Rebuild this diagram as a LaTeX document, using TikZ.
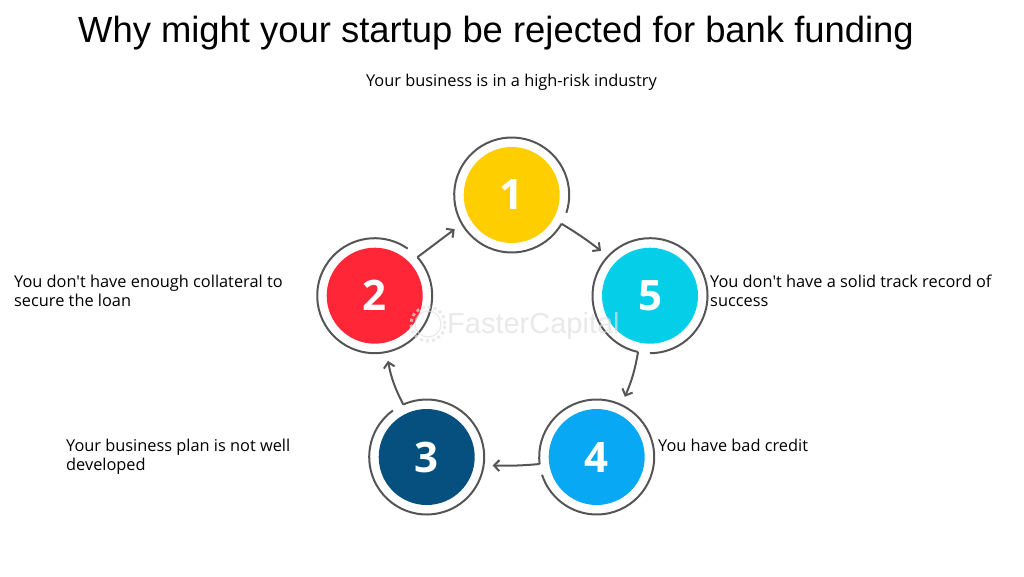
\documentclass[tikz,border=0pt]{standalone}
\usepackage{fontspec}
\usepackage{xcolor}
\newfontfamily\bodyfont{Open Sans}
\newfontfamily\titlefont{Liberation Sans}
\usetikzlibrary{arrows.meta,bending}
\definecolor{ringgray}{HTML}{555555}
\definecolor{fillone}{HTML}{FFCE00}
\definecolor{filltwo}{HTML}{FF2638}
\definecolor{fillthree}{HTML}{05507F}
\definecolor{fillfour}{HTML}{08A8F5}
\definecolor{fillfive}{HTML}{05CFE8}

\begin{document}
\begin{tikzpicture}[x=1pt,y=-1pt,
    disc/.style={circle,minimum size=96pt,inner sep=0pt,text=white,font=\bodyfont\fontsize{42}{42}\selectfont\bfseries},
    ring/.style={circle,minimum size=115pt,inner sep=0pt,outer sep=0pt},
    ringline/.style={line width=2pt,color=ringgray},
    flow/.style={line width=2pt,color=ringgray,-{Straight Barb[length=6pt,width=11pt,bend]}},
    caption/.style={align=left,inner sep=0pt,font=\bodyfont\fontsize{16.35}{19.5}\selectfont}]
    \useasboundingbox (0,0) rectangle (1024,576);

    \node[font=\titlefont\fontsize{36.4}{40}\selectfont,inner sep=0pt,anchor=base] (title) at (496,42) {Why might your startup be rejected for bank funding};
    \node[caption,anchor=base] (top) at (511.5,86) {Your business is in a high-risk industry};

    \node[ring] (r1) at (511.7,195) {};
    \node[ring] (r2) at (374.7,295.7) {};
    \node[ring] (r3) at (426.7,457) {};
    \node[ring] (r4) at (596.7,457) {};
    \node[ring] (r5) at (650,295.7) {};

    \node[disc,fill=fillone] (d1) at (r1) {1};
    \node[disc,fill=filltwo] (d2) at (r2) {2};
    \node[disc,fill=fillthree] (d3) at (r3) {3};
    \node[disc,fill=fillfour] (d4) at (r4) {4};
    \node[disc,fill=fillfive] (d5) at (r5) {5};

    \draw[ringline] (r1.-30) arc[start angle=-30,delta angle=-348,radius=57.5pt];
    \draw[ringline] (r2.42) arc[start angle=42,delta angle=-347,radius=57.5pt];
    \draw[ringline] (r3.114) arc[start angle=114,delta angle=-348,radius=57.5pt];
    \draw[ringline] (r4.187) arc[start angle=187,delta angle=-349,radius=57.5pt];
    \draw[ringline] (r5.258) arc[start angle=258,delta angle=-348,radius=57.5pt];

    \draw[flow,shorten >=9pt] (r1.-30) to[bend left=4] (r5.137);
    \draw[flow,shorten >=9pt] (r5.258) to[bend left=8] (r4.65);
    \draw[flow,shorten >=9pt] (r4.187) to[bend left=4] (r3.-8);
    \draw[flow,shorten >=9pt] (r3.114) to[bend left=10] (r2.-78);
    \draw[flow,shorten >=9pt] (r2.42) to[bend left=0] (r1.210);

    \node[text=gray!25,opacity=0.7,font=\titlefont\fontsize{29}{29}\selectfont,inner sep=0pt,anchor=base west] (mark) at (447,333) {FasterCapital};
    \draw[gray!25,opacity=0.7,line width=1.2pt] (428,324) circle[radius=13pt];
    \draw[gray!25,opacity=0.7,line width=3pt,dash pattern=on 3pt off 3pt] (428,324) circle[radius=17pt];

    \node[caption,anchor=base west] (t2) at (14,306.5) {You don't have enough collateral to\\secure the loan};
    \node[caption,anchor=base west] (t3) at (66,470.5) {Your business plan is not well\\developed};
    \node[caption,anchor=base west] (t4) at (658,451) {You have bad credit};
    \node[caption,anchor=base west] (t5) at (710,306.5) {You don't have a solid track record of\\success};
  \end{tikzpicture}
\end{document}
